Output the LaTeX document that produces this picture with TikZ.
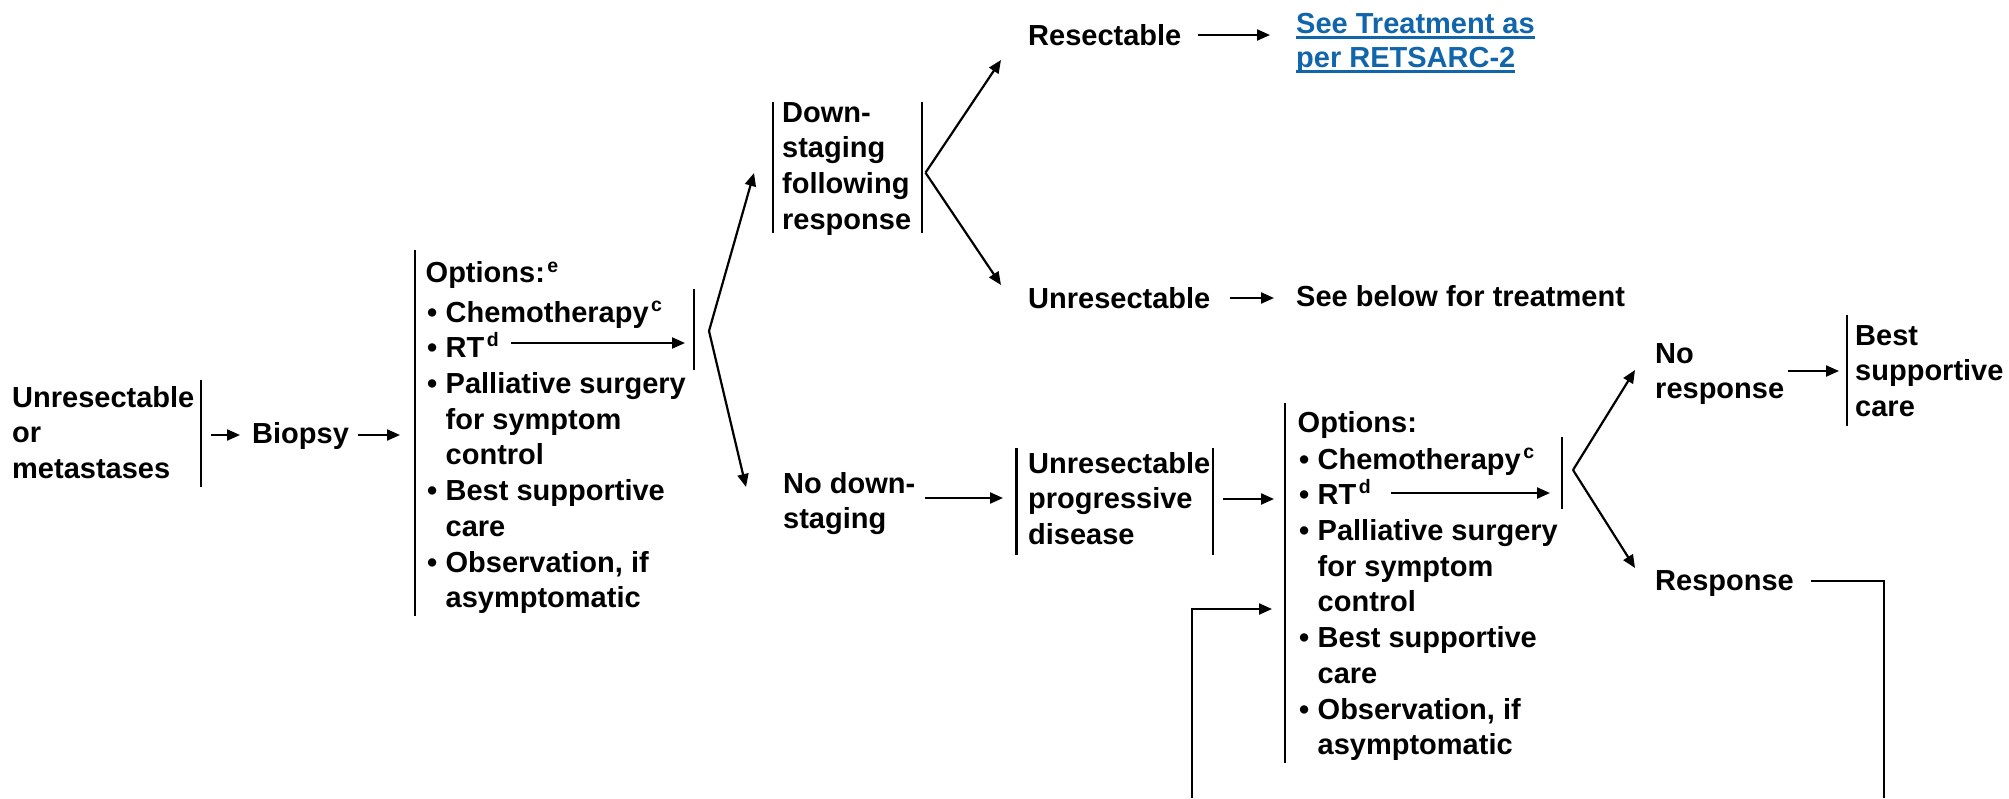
\documentclass[tikz,border=0pt]{standalone}
\usepackage{fontspec}
\setmainfont{Liberation Sans}
\usetikzlibrary{arrows.meta}
\definecolor{linkblue}{RGB}{17,101,171}
\newcommand\lns[1]{\begin{tabular}[t]{@{}l@{}}#1\end{tabular}}
\newcommand\bul{\makebox[20pt][l]{\hspace*{1.5pt}\textbullet}}
\newcommand\ind{\hspace*{20pt}}
\newcommand\sups[2][11pt]{\kern2.5pt\raisebox{#1}{\fontsize{19.5}{19.5}\selectfont #2}}
\newcommand\myul[1]{\setbox0\hbox{#1}\rlap{\rule[-5pt]{\wd0}{2.6pt}}\box0}
\begin{document}
\begin{tikzpicture}[x=1pt,y=-1pt,
  txt/.style={font=\fontsize{29}{35.7}\selectfont\bfseries, inner sep=0pt, anchor=base west},
  bar/.style={line width=2.5pt},
  arr/.style={line width=2.2pt,-{Triangle[length=13pt,width=11pt]}},
  ln/.style={line width=2.2pt}]
\useasboundingbox (0,0) rectangle (2009,798);

% ---- text nodes ----
\node[txt] (unres) at (12,407) {\lns{Unresectable\\or\\metastases}};
\node[txt] (biopsy) at (252,443) {Biopsy};
\node[txt] (opt1) at (425.5,282) {\lns{Options:\sups[10pt]{e}\\[4.3pt]
  \bul Chemotherapy\sups{c}\\
  \bul RT\sups{d}\\
  \bul Palliative surgery\\
  \ind for symptom\\
  \ind control\\
  \bul Best supportive\\
  \ind care\\
  \bul Observation, if\\
  \ind asymptomatic}};
\node[txt] (down) at (782,122) {\lns{Down-\\staging\\following\\response}};
\node[txt] (nodown) at (783,493) {\lns{No down-\\staging}};
\node[txt] (resect) at (1028,45) {Resectable};
\node[txt,text=linkblue] (link) at (1296,33.5) {\lns{\myul{See Treatment as}\\[-1.7pt]\myul{per RETSARC-2}}};
\node[txt] (unres2) at (1028,308) {Unresectable};
\node[txt] (below) at (1296,306) {See below for treatment};
\node[txt] (upd) at (1028,473) {\lns{Unresectable\\progressive\\disease}};
\node[txt] (opt2) at (1297.5,432) {\lns{Options:\\[1.3pt]
  \bul Chemotherapy\sups{c}\\
  \bul RT\sups{d}\\
  \bul Palliative surgery\\
  \ind for symptom\\
  \ind control\\
  \bul Best supportive\\
  \ind care\\
  \bul Observation, if\\
  \ind asymptomatic}};
\node[txt] (nores) at (1655,363) {\lns{No\\response}};
\node[txt] (bsc) at (1855,345) {\lns{Best\\supportive\\care}};
\node[txt] (resp) at (1655,590) {Response};

% ---- bars ----
\draw[bar] (201,380) -- (201,487);
\draw[bar] (415,250) -- (415,616);
\draw[bar] (694,289) -- (694,370);
\draw[bar] (773,102) -- (773,233);
\draw[bar] (922,102) -- (922,233);
\draw[bar] (1016.5,448) -- (1016.5,555);
\draw[bar] (1213,448) -- (1213,555);
\draw[bar] (1285,403) -- (1285,763);
\draw[bar] (1562,437) -- (1562,509);
\draw[bar] (1847,315) -- (1847,426);

% ---- connector points ----
\coordinate (a1s) at (211,435);   \coordinate (a1e) at (240,435);
\coordinate (a2s) at (358,435);   \coordinate (a2e) at (400,435);
\coordinate (rt1s) at (511,343);  \coordinate (rt1e) at (685,343);
\coordinate (v1) at (709,331);
\coordinate (v1u) at (754,173);   \coordinate (v1d) at (746,487);
\coordinate (v2) at (925.5,172.7);
\coordinate (v2u) at (1001,60);   \coordinate (v2d) at (1001,285);
\coordinate (ress) at (1198,35);  \coordinate (rese) at (1270,35);
\coordinate (uns) at (1230,298);  \coordinate (une) at (1274,298);
\coordinate (nds) at (925,498);   \coordinate (nde) at (1003,498);
\coordinate (ups) at (1223,499);  \coordinate (upe) at (1274,499);
\coordinate (rt2s) at (1391,493); \coordinate (rt2e) at (1550,493);
\coordinate (v3) at (1573,470);
\coordinate (v3u) at (1635,370);  \coordinate (v3d) at (1635,568);
\coordinate (nrs) at (1788,371);  \coordinate (nre) at (1839,371);
\coordinate (rps) at (1811,581);  \coordinate (rpe) at (1884,798);
\coordinate (fbs) at (1192,798);  \coordinate (fbe) at (1272,609);

% ---- connectors ----
\draw[arr] (a1s) -- (a1e);
\draw[arr] (a2s) -- (a2e);
\draw[arr] (rt1s) -- (rt1e);
\draw[arr] (v1) -- (v1u);
\draw[arr] (v1) -- (v1d);
\draw[arr] (v2) -- (v2u);
\draw[arr] (v2) -- (v2d);
\draw[arr] (ress) -- (rese);
\draw[arr] (uns) -- (une);
\draw[arr] (nds) -- (nde);
\draw[arr] (ups) -- (upe);
\draw[arr] (rt2s) -- (rt2e);
\draw[arr] (v3) -- (v3u);
\draw[arr] (v3) -- (v3d);
\draw[arr] (nrs) -- (nre);
\draw[ln] (rps) -| (rpe);
\draw[arr] (fbs) |- (fbe);
\end{tikzpicture}
\end{document}
